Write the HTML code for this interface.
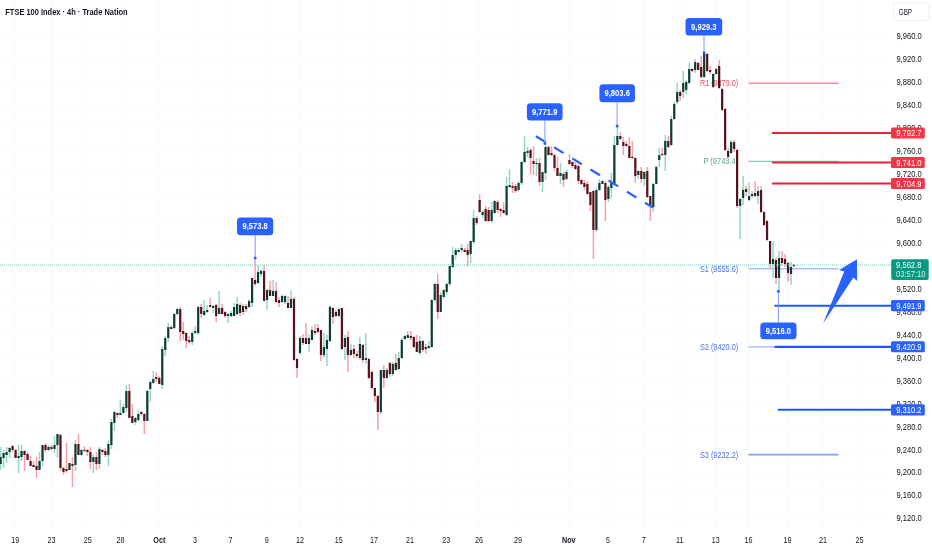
<!DOCTYPE html>
<html><head><meta charset="utf-8"><title>FTSE 100 Index 4h</title>
<style>
html,body{margin:0;padding:0;background:#fff;width:932px;height:550px;overflow:hidden;font-family:"Liberation Sans", sans-serif;}
svg{display:block;filter:blur(0.3px);}
</style></head><body>
<svg width="932" height="550" viewBox="0 0 932 550"><g stroke="#f8f9fa" stroke-width="0.8"><line x1="0" y1="35.5" x2="888" y2="35.5"/><line x1="0" y1="58.5" x2="888" y2="58.5"/><line x1="0" y1="81.5" x2="888" y2="81.5"/><line x1="0" y1="104.5" x2="888" y2="104.5"/><line x1="0" y1="127.5" x2="888" y2="127.5"/><line x1="0" y1="150.5" x2="888" y2="150.5"/><line x1="0" y1="173.5" x2="888" y2="173.5"/><line x1="0" y1="196.4" x2="888" y2="196.4"/><line x1="0" y1="219.4" x2="888" y2="219.4"/><line x1="0" y1="242.4" x2="888" y2="242.4"/><line x1="0" y1="265.4" x2="888" y2="265.4"/><line x1="0" y1="288.4" x2="888" y2="288.4"/><line x1="0" y1="311.4" x2="888" y2="311.4"/><line x1="0" y1="334.4" x2="888" y2="334.4"/><line x1="0" y1="357.4" x2="888" y2="357.4"/><line x1="0" y1="380.4" x2="888" y2="380.4"/><line x1="0" y1="403.4" x2="888" y2="403.4"/><line x1="0" y1="426.4" x2="888" y2="426.4"/><line x1="0" y1="449.4" x2="888" y2="449.4"/><line x1="0" y1="472.3" x2="888" y2="472.3"/><line x1="0" y1="495.3" x2="888" y2="495.3"/><line x1="0" y1="518.3" x2="888" y2="518.3"/><line x1="15.3" y1="0" x2="15.3" y2="528"/><line x1="51.5" y1="0" x2="51.5" y2="528"/><line x1="87.7" y1="0" x2="87.7" y2="528"/><line x1="120.4" y1="0" x2="120.4" y2="528"/><line x1="159.3" y1="0" x2="159.3" y2="528"/><line x1="195.0" y1="0" x2="195.0" y2="528"/><line x1="230.5" y1="0" x2="230.5" y2="528"/><line x1="266.7" y1="0" x2="266.7" y2="528"/><line x1="300.0" y1="0" x2="300.0" y2="528"/><line x1="338.7" y1="0" x2="338.7" y2="528"/><line x1="374.0" y1="0" x2="374.0" y2="528"/><line x1="410.0" y1="0" x2="410.0" y2="528"/><line x1="446.3" y1="0" x2="446.3" y2="528"/><line x1="479.0" y1="0" x2="479.0" y2="528"/><line x1="517.9" y1="0" x2="517.9" y2="528"/><line x1="568.8" y1="0" x2="568.8" y2="528"/><line x1="608.0" y1="0" x2="608.0" y2="528"/><line x1="643.8" y1="0" x2="643.8" y2="528"/><line x1="679.8" y1="0" x2="679.8" y2="528"/><line x1="715.7" y1="0" x2="715.7" y2="528"/><line x1="748.4" y1="0" x2="748.4" y2="528"/><line x1="787.5" y1="0" x2="787.5" y2="528"/><line x1="823.0" y1="0" x2="823.0" y2="528"/><line x1="859.4" y1="0" x2="859.4" y2="528"/></g><line x1="748.5" y1="83.2" x2="838.5" y2="83.2" stroke="#f45a67" stroke-width="1.0"/><text x="738.2" y="86.2" text-anchor="end" fill="#f04c5a" font-size="8.6" font-family='"Liberation Sans", sans-serif' textLength="38.3" lengthAdjust="spacingAndGlyphs">R1 (9879.0)</text><line x1="748.5" y1="161.3" x2="838.5" y2="161.3" stroke="#6fbf9c" stroke-width="1.0"/><text x="738.2" y="164.3" text-anchor="end" fill="#52a882" font-size="8.6" font-family='"Liberation Sans", sans-serif' textLength="34.8" lengthAdjust="spacingAndGlyphs">P (9743.4)</text><line x1="748.5" y1="268.8" x2="838.5" y2="268.8" stroke="#86a0fb" stroke-width="1.0"/><text x="738.2" y="271.8" text-anchor="end" fill="#4d70f5" font-size="8.6" font-family='"Liberation Sans", sans-serif' textLength="38.3" lengthAdjust="spacingAndGlyphs">S1 (9555.6)</text><line x1="748.5" y1="346.9" x2="838.5" y2="346.9" stroke="#86a0fb" stroke-width="1.0"/><text x="738.2" y="349.9" text-anchor="end" fill="#4d70f5" font-size="8.6" font-family='"Liberation Sans", sans-serif' textLength="38.3" lengthAdjust="spacingAndGlyphs">S2 (9420.0)</text><line x1="748.5" y1="454.6" x2="838.5" y2="454.6" stroke="#86a0fb" stroke-width="1.8"/><text x="738.2" y="457.6" text-anchor="end" fill="#4d70f5" font-size="8.6" font-family='"Liberation Sans", sans-serif' textLength="38.3" lengthAdjust="spacingAndGlyphs">S3 (9232.2)</text><path d="M0.60 447.0V470.0M3.59 450.0V468.0M6.59 447.0V463.0M9.58 447.0V458.0M18.56 445.0V473.0M21.56 445.0V461.0M39.52 452.0V470.0M42.52 445.0V466.0M48.50 445.0V451.0M54.49 436.0V453.0M57.49 434.0V458.0M69.46 463.0V470.0M75.45 440.0V471.0M81.44 449.0V456.0M93.41 454.0V473.0M99.40 447.0V469.0M108.38 440.0V466.0M111.38 419.0V449.0M114.37 411.0V431.0M120.36 400.0V415.0M123.35 404.0V413.0M126.35 385.0V412.0M135.33 417.0V425.0M138.32 410.0V421.0M147.31 390.0V421.0M150.30 381.0V402.0M153.29 371.0V384.0M162.28 346.0V389.0M165.27 336.0V356.0M168.26 323.0V342.0M174.25 313.0V329.0M177.25 308.0V315.0M192.22 331.0V345.0M195.21 326.0V334.0M198.20 306.0V335.0M204.19 300.0V316.0M207.19 305.0V313.0M213.17 305.0V313.0M219.16 291.0V314.0M228.14 313.0V323.0M231.14 311.0V317.0M234.13 303.0V316.0M237.13 297.0V315.0M243.11 304.0V315.0M249.10 299.0V308.0M252.10 278.0V307.0M258.08 265.0V284.0M261.08 269.0V277.0M267.07 289.0V310.0M273.05 280.0V296.0M282.04 294.0V303.0M285.03 295.0V304.0M291.02 290.0V308.0M300.00 336.0V355.0M308.98 335.0V352.0M311.98 326.0V340.0M323.95 333.0V358.0M326.95 335.0V366.0M329.94 305.0V342.0M338.92 308.0V317.0M344.91 335.0V360.0M350.90 344.0V356.0M359.88 337.0V360.0M365.87 333.0V364.0M380.84 370.0V414.0M386.83 368.0V379.0M392.81 362.0V376.0M398.80 352.0V370.0M401.80 338.0V359.0M404.79 335.0V340.0M407.78 331.0V338.0M419.76 336.0V355.0M428.74 341.0V349.0M431.74 299.0V348.0M434.73 283.0V302.0M440.72 292.0V312.0M443.71 289.0V299.0M446.71 283.0V295.0M449.70 266.0V286.0M452.69 247.0V268.0M455.69 248.0V260.0M458.68 248.0V252.0M461.68 244.0V252.0M470.66 241.0V263.0M473.65 210.0V244.0M482.63 210.0V218.0M491.62 202.0V223.0M494.61 200.0V214.0M506.59 177.0V216.0M509.58 169.0V188.0M518.56 182.0V191.0M521.56 161.0V185.0M524.55 136.0V163.0M527.54 147.0V157.0M536.53 158.0V176.0M542.51 172.0V192.0M545.51 146.0V180.0M560.48 163.0V184.0M566.47 170.0V180.0M596.41 188.0V232.0M599.40 179.0V191.0M602.39 180.0V184.0M608.38 185.0V202.0M611.38 173.0V198.0M614.37 136.0V185.0M617.36 125.0V146.0M638.32 170.0V179.0M644.31 171.0V186.0M653.29 183.0V212.0M656.29 165.0V184.0M659.28 148.0V167.0M665.27 135.0V171.0M671.26 116.0V146.0M674.25 102.0V120.0M677.24 83.0V104.0M683.23 71.0V98.0M686.23 80.0V94.0M689.22 63.0V84.0M695.21 59.0V73.0M704.19 52.0V78.0M713.17 73.0V88.0M716.17 68.0V75.0M731.14 140.0V154.0M740.12 198.0V239.0M743.11 176.0V205.0M749.10 182.0V201.0M752.09 191.0V198.0M758.08 186.0V204.0M773.05 241.0V278.0M779.04 251.0V292.0M791.02 262.0V285.0" stroke="#97d6c8" stroke-width="1.5" fill="none"/><path d="M12.58 445.0V452.0M15.57 449.0V458.0M24.55 450.0V471.0M27.55 452.0V460.0M30.54 456.0V466.0M33.53 461.0V467.0M36.53 457.0V478.0M45.51 443.0V452.0M51.50 445.0V450.0M60.48 434.0V471.0M63.47 467.0V475.0M66.47 443.0V473.0M72.46 457.0V487.0M78.44 434.0V454.0M84.43 446.0V452.0M87.43 449.0V456.0M90.42 447.0V469.0M96.41 452.0V470.0M102.40 449.0V455.0M105.39 448.0V457.0M117.37 412.0V418.0M129.34 384.0V418.0M132.34 404.0V423.0M141.32 411.0V416.0M144.31 413.0V434.0M156.29 372.0V382.0M159.28 376.0V384.0M171.26 325.0V329.0M180.24 307.0V341.0M183.23 322.0V340.0M186.23 332.0V348.0M189.22 336.0V344.0M201.20 304.0V318.0M210.18 298.0V307.0M216.17 304.0V322.0M222.16 304.0V314.0M225.15 311.0V318.0M240.12 303.0V316.0M246.11 304.0V312.0M255.09 258.0V286.0M264.07 265.0V301.0M270.06 281.0V296.0M276.05 282.0V303.0M279.04 297.0V307.0M288.02 296.0V308.0M294.01 297.0V361.0M297.01 358.0V378.0M302.99 334.0V345.0M305.99 323.0V344.0M314.97 324.0V335.0M317.96 324.0V333.0M320.96 330.0V361.0M332.93 307.0V324.0M335.93 310.0V317.0M341.92 308.0V350.0M347.90 331.0V372.0M353.89 345.0V358.0M356.89 351.0V358.0M362.87 344.0V363.0M368.86 358.0V379.0M371.86 370.0V389.0M374.85 388.0V402.0M377.84 395.0V430.0M383.83 365.0V388.0M389.82 362.0V377.0M395.81 354.0V370.0M410.78 331.0V340.0M413.77 336.0V348.0M416.77 335.0V352.0M422.75 340.0V352.0M425.75 344.0V354.0M437.72 274.0V319.0M464.67 248.0V252.0M467.66 244.0V266.0M476.65 216.0V225.0M479.64 194.0V213.0M485.63 206.0V222.0M488.62 207.0V222.0M497.60 200.0V213.0M500.60 208.0V217.0M503.59 202.0V214.0M512.57 182.0V193.0M515.57 184.0V193.0M530.54 148.0V174.0M533.53 146.0V175.0M539.52 158.0V186.0M548.50 146.0V156.0M551.50 146.0V156.0M554.49 154.0V171.0M557.48 157.0V176.0M563.47 172.0V187.0M569.46 154.0V165.0M572.45 161.0V168.0M575.45 162.0V170.0M578.44 164.0V184.0M581.44 179.0V185.0M584.43 180.0V190.0M587.42 181.0V195.0M590.42 192.0V211.0M593.41 190.0V259.0M605.39 181.0V221.0M620.36 132.0V140.0M623.35 137.0V155.0M626.35 141.0V147.0M629.34 137.0V158.0M632.33 141.0V159.0M635.33 157.0V183.0M641.32 167.0V183.0M647.30 167.0V198.0M650.30 196.0V221.0M662.27 148.0V156.0M668.26 136.0V148.0M680.24 90.0V101.0M692.21 68.0V72.0M698.20 62.0V70.0M701.20 56.0V78.0M707.18 53.0V72.0M710.18 66.0V74.0M719.16 60.0V89.0M722.15 88.0V111.0M725.15 108.0V151.0M728.14 148.0V158.0M734.13 140.0V152.0M737.12 149.0V208.0M746.11 186.0V196.0M755.09 181.0V197.0M761.08 186.0V213.0M764.07 211.0V226.0M767.06 220.0V241.0M770.06 241.0V269.0M776.05 258.0V284.0M782.03 251.0V266.0M785.03 254.0V267.0M788.02 262.0V282.0M794.01 264.0V267.0" stroke="#f7a0a8" stroke-width="1.5" fill="none"/><g fill="#0c3d32"><rect x="-0.50" y="457.0" width="2.2" height="7.0"/><rect x="2.49" y="453.0" width="2.2" height="5.0"/><rect x="5.49" y="452.0" width="2.2" height="3.0"/><rect x="8.48" y="448.0" width="2.2" height="4.0"/><rect x="17.46" y="456.0" width="2.2" height="2.0"/><rect x="20.46" y="451.0" width="2.2" height="6.0"/><rect x="38.42" y="461.0" width="2.2" height="9.0"/><rect x="41.42" y="445.0" width="2.2" height="16.0"/><rect x="47.40" y="447.0" width="2.2" height="3.0"/><rect x="53.39" y="445.0" width="2.2" height="4.0"/><rect x="56.39" y="434.0" width="2.2" height="11.0"/><rect x="68.36" y="463.0" width="2.2" height="7.0"/><rect x="74.35" y="444.0" width="2.2" height="21.0"/><rect x="80.34" y="450.0" width="2.2" height="5.0"/><rect x="92.31" y="457.0" width="2.2" height="5.0"/><rect x="98.30" y="449.0" width="2.2" height="15.0"/><rect x="107.28" y="444.0" width="2.2" height="11.0"/><rect x="110.28" y="422.0" width="2.2" height="23.0"/><rect x="113.27" y="412.0" width="2.2" height="11.0"/><rect x="119.26" y="413.0" width="2.2" height="2.0"/><rect x="122.25" y="407.0" width="2.2" height="6.0"/><rect x="125.25" y="391.0" width="2.2" height="17.0"/><rect x="134.23" y="418.0" width="2.2" height="4.0"/><rect x="137.22" y="414.0" width="2.2" height="6.0"/><rect x="146.21" y="391.0" width="2.2" height="30.0"/><rect x="149.20" y="382.0" width="2.2" height="7.0"/><rect x="152.19" y="379.0" width="2.2" height="4.0"/><rect x="161.18" y="349.0" width="2.2" height="36.0"/><rect x="164.17" y="338.0" width="2.2" height="12.0"/><rect x="167.16" y="327.0" width="2.2" height="11.0"/><rect x="173.15" y="314.0" width="2.2" height="14.0"/><rect x="176.15" y="309.0" width="2.2" height="5.0"/><rect x="191.12" y="333.0" width="2.2" height="9.0"/><rect x="194.11" y="331.0" width="2.2" height="2.0"/><rect x="197.10" y="307.0" width="2.2" height="26.0"/><rect x="203.09" y="311.0" width="2.2" height="4.0"/><rect x="206.09" y="310.0" width="2.2" height="2.0"/><rect x="212.07" y="306.0" width="2.2" height="2.0"/><rect x="218.06" y="308.0" width="2.2" height="6.0"/><rect x="227.04" y="314.0" width="2.2" height="2.0"/><rect x="230.04" y="313.0" width="2.2" height="3.0"/><rect x="233.03" y="307.0" width="2.2" height="9.0"/><rect x="236.03" y="304.0" width="2.2" height="10.0"/><rect x="242.01" y="306.0" width="2.2" height="6.0"/><rect x="248.00" y="301.0" width="2.2" height="6.0"/><rect x="251.00" y="278.0" width="2.2" height="25.0"/><rect x="256.98" y="272.0" width="2.2" height="11.0"/><rect x="259.98" y="271.0" width="2.2" height="3.0"/><rect x="265.97" y="290.0" width="2.2" height="10.0"/><rect x="271.95" y="291.0" width="2.2" height="5.0"/><rect x="280.94" y="296.0" width="2.2" height="6.0"/><rect x="283.93" y="296.0" width="2.2" height="6.0"/><rect x="289.92" y="299.0" width="2.2" height="9.0"/><rect x="298.90" y="338.0" width="2.2" height="15.0"/><rect x="307.88" y="338.0" width="2.2" height="6.0"/><rect x="310.88" y="330.0" width="2.2" height="10.0"/><rect x="322.85" y="347.0" width="2.2" height="8.0"/><rect x="325.85" y="340.0" width="2.2" height="9.0"/><rect x="328.84" y="307.0" width="2.2" height="34.0"/><rect x="337.82" y="309.0" width="2.2" height="7.0"/><rect x="343.81" y="338.0" width="2.2" height="9.0"/><rect x="349.80" y="350.0" width="2.2" height="5.0"/><rect x="358.78" y="344.0" width="2.2" height="14.0"/><rect x="364.77" y="358.0" width="2.2" height="2.0"/><rect x="379.74" y="370.0" width="2.2" height="42.0"/><rect x="385.73" y="370.0" width="2.2" height="8.0"/><rect x="391.71" y="364.0" width="2.2" height="10.0"/><rect x="397.70" y="358.0" width="2.2" height="11.0"/><rect x="400.70" y="340.0" width="2.2" height="18.0"/><rect x="403.69" y="336.0" width="2.2" height="3.0"/><rect x="406.68" y="335.0" width="2.2" height="3.0"/><rect x="418.66" y="341.0" width="2.2" height="12.0"/><rect x="427.64" y="346.0" width="2.2" height="2.0"/><rect x="430.64" y="300.0" width="2.2" height="47.0"/><rect x="433.63" y="284.0" width="2.2" height="16.0"/><rect x="439.62" y="295.0" width="2.2" height="17.0"/><rect x="442.61" y="290.0" width="2.2" height="7.0"/><rect x="445.61" y="284.0" width="2.2" height="8.0"/><rect x="448.60" y="266.0" width="2.2" height="18.0"/><rect x="451.59" y="255.0" width="2.2" height="12.0"/><rect x="454.59" y="250.0" width="2.2" height="5.0"/><rect x="457.58" y="250.0" width="2.2" height="2.0"/><rect x="460.58" y="248.0" width="2.2" height="2.0"/><rect x="469.56" y="241.0" width="2.2" height="13.0"/><rect x="472.55" y="218.0" width="2.2" height="24.0"/><rect x="481.53" y="212.0" width="2.2" height="3.0"/><rect x="490.52" y="210.0" width="2.2" height="11.0"/><rect x="493.51" y="201.0" width="2.2" height="12.0"/><rect x="505.49" y="186.0" width="2.2" height="29.0"/><rect x="508.48" y="185.0" width="2.2" height="2.0"/><rect x="517.46" y="183.0" width="2.2" height="7.0"/><rect x="520.46" y="162.0" width="2.2" height="21.0"/><rect x="523.45" y="152.0" width="2.2" height="10.0"/><rect x="526.44" y="151.0" width="2.2" height="2.0"/><rect x="535.43" y="162.9" width="2.2" height="1.2"/><rect x="541.41" y="172.0" width="2.2" height="10.0"/><rect x="544.41" y="147.0" width="2.2" height="26.0"/><rect x="559.38" y="173.0" width="2.2" height="3.0"/><rect x="565.37" y="172.0" width="2.2" height="7.0"/><rect x="595.31" y="190.0" width="2.2" height="40.0"/><rect x="598.30" y="183.0" width="2.2" height="7.0"/><rect x="601.29" y="181.0" width="2.2" height="3.0"/><rect x="607.28" y="187.0" width="2.2" height="12.0"/><rect x="610.28" y="183.0" width="2.2" height="5.0"/><rect x="613.27" y="145.0" width="2.2" height="39.0"/><rect x="616.26" y="136.0" width="2.2" height="9.0"/><rect x="637.22" y="171.0" width="2.2" height="4.0"/><rect x="643.21" y="172.0" width="2.2" height="7.0"/><rect x="652.19" y="184.0" width="2.2" height="23.0"/><rect x="655.19" y="167.0" width="2.2" height="17.0"/><rect x="658.18" y="155.0" width="2.2" height="5.0"/><rect x="664.17" y="141.0" width="2.2" height="14.0"/><rect x="670.16" y="119.0" width="2.2" height="26.0"/><rect x="673.15" y="104.0" width="2.2" height="15.0"/><rect x="676.14" y="92.0" width="2.2" height="10.0"/><rect x="682.13" y="83.0" width="2.2" height="9.0"/><rect x="685.13" y="82.0" width="2.2" height="8.0"/><rect x="688.12" y="69.0" width="2.2" height="14.0"/><rect x="694.11" y="62.0" width="2.2" height="8.0"/><rect x="703.09" y="53.0" width="2.2" height="24.0"/><rect x="712.07" y="74.0" width="2.2" height="13.0"/><rect x="715.07" y="69.0" width="2.2" height="5.0"/><rect x="730.04" y="142.0" width="2.2" height="11.0"/><rect x="739.02" y="199.0" width="2.2" height="7.0"/><rect x="742.01" y="190.0" width="2.2" height="8.0"/><rect x="748.00" y="196.0" width="2.2" height="4.0"/><rect x="750.99" y="194.0" width="2.2" height="2.0"/><rect x="756.98" y="191.0" width="2.2" height="5.0"/><rect x="771.95" y="259.0" width="2.2" height="5.0"/><rect x="777.94" y="258.0" width="2.2" height="20.0"/><rect x="789.92" y="267.0" width="2.2" height="7.0"/></g><g fill="#55121a"><rect x="11.48" y="446.0" width="2.2" height="4.0"/><rect x="14.47" y="450.0" width="2.2" height="8.0"/><rect x="23.45" y="451.0" width="2.2" height="4.0"/><rect x="26.45" y="454.0" width="2.2" height="6.0"/><rect x="29.44" y="461.0" width="2.2" height="5.0"/><rect x="32.43" y="465.0" width="2.2" height="2.0"/><rect x="35.43" y="466.0" width="2.2" height="4.0"/><rect x="44.41" y="445.0" width="2.2" height="5.0"/><rect x="50.40" y="447.0" width="2.2" height="2.0"/><rect x="59.38" y="435.0" width="2.2" height="33.0"/><rect x="62.37" y="468.0" width="2.2" height="4.0"/><rect x="65.37" y="469.0" width="2.2" height="2.0"/><rect x="71.36" y="464.0" width="2.2" height="2.0"/><rect x="77.34" y="444.0" width="2.2" height="11.0"/><rect x="83.33" y="449.9" width="2.2" height="1.2"/><rect x="86.33" y="450.0" width="2.2" height="2.0"/><rect x="89.32" y="452.0" width="2.2" height="10.0"/><rect x="95.31" y="457.0" width="2.2" height="7.0"/><rect x="101.30" y="450.0" width="2.2" height="2.0"/><rect x="104.29" y="451.0" width="2.2" height="4.0"/><rect x="116.27" y="413.0" width="2.2" height="2.0"/><rect x="128.24" y="391.0" width="2.2" height="27.0"/><rect x="131.24" y="416.0" width="2.2" height="7.0"/><rect x="140.22" y="412.0" width="2.2" height="2.0"/><rect x="143.21" y="414.0" width="2.2" height="7.0"/><rect x="155.19" y="377.0" width="2.2" height="2.0"/><rect x="158.18" y="378.0" width="2.2" height="6.0"/><rect x="170.16" y="327.0" width="2.2" height="2.0"/><rect x="179.14" y="309.0" width="2.2" height="23.0"/><rect x="182.13" y="331.0" width="2.2" height="3.0"/><rect x="185.13" y="333.0" width="2.2" height="8.0"/><rect x="188.12" y="340.0" width="2.2" height="2.0"/><rect x="200.10" y="307.0" width="2.2" height="7.0"/><rect x="209.08" y="305.0" width="2.2" height="2.0"/><rect x="215.07" y="305.0" width="2.2" height="11.0"/><rect x="221.06" y="308.0" width="2.2" height="6.0"/><rect x="224.05" y="312.0" width="2.2" height="4.0"/><rect x="239.02" y="305.0" width="2.2" height="8.0"/><rect x="245.01" y="306.0" width="2.2" height="3.0"/><rect x="253.99" y="280.0" width="2.2" height="4.0"/><rect x="262.97" y="271.0" width="2.2" height="30.0"/><rect x="268.96" y="290.0" width="2.2" height="6.0"/><rect x="274.95" y="291.0" width="2.2" height="11.0"/><rect x="277.94" y="300.0" width="2.2" height="3.0"/><rect x="286.92" y="303.0" width="2.2" height="5.0"/><rect x="292.91" y="299.0" width="2.2" height="61.0"/><rect x="295.91" y="359.0" width="2.2" height="9.0"/><rect x="301.89" y="338.0" width="2.2" height="5.0"/><rect x="304.89" y="338.0" width="2.2" height="6.0"/><rect x="313.87" y="331.0" width="2.2" height="2.0"/><rect x="316.86" y="328.0" width="2.2" height="4.0"/><rect x="319.86" y="330.0" width="2.2" height="25.0"/><rect x="331.83" y="308.0" width="2.2" height="9.0"/><rect x="334.83" y="312.0" width="2.2" height="4.0"/><rect x="340.82" y="308.0" width="2.2" height="41.0"/><rect x="346.80" y="337.0" width="2.2" height="18.0"/><rect x="352.79" y="349.0" width="2.2" height="5.0"/><rect x="355.79" y="354.0" width="2.2" height="2.0"/><rect x="361.77" y="345.0" width="2.2" height="15.0"/><rect x="367.76" y="359.0" width="2.2" height="19.0"/><rect x="370.76" y="372.0" width="2.2" height="16.0"/><rect x="373.75" y="388.0" width="2.2" height="8.0"/><rect x="376.74" y="396.0" width="2.2" height="16.0"/><rect x="382.73" y="370.0" width="2.2" height="8.0"/><rect x="388.72" y="363.0" width="2.2" height="11.0"/><rect x="394.71" y="363.0" width="2.2" height="7.0"/><rect x="409.68" y="336.0" width="2.2" height="2.0"/><rect x="412.67" y="337.0" width="2.2" height="10.0"/><rect x="415.67" y="342.0" width="2.2" height="10.0"/><rect x="421.65" y="341.0" width="2.2" height="9.0"/><rect x="424.65" y="347.0" width="2.2" height="2.0"/><rect x="436.62" y="284.0" width="2.2" height="28.0"/><rect x="463.57" y="250.0" width="2.2" height="2.0"/><rect x="466.56" y="250.0" width="2.2" height="5.0"/><rect x="475.55" y="218.0" width="2.2" height="5.0"/><rect x="478.54" y="200.0" width="2.2" height="12.0"/><rect x="484.53" y="209.0" width="2.2" height="12.0"/><rect x="487.52" y="210.0" width="2.2" height="11.0"/><rect x="496.50" y="202.0" width="2.2" height="8.0"/><rect x="499.50" y="209.0" width="2.2" height="2.0"/><rect x="502.49" y="210.0" width="2.2" height="3.0"/><rect x="511.47" y="186.0" width="2.2" height="2.0"/><rect x="514.47" y="186.0" width="2.2" height="5.0"/><rect x="529.44" y="150.0" width="2.2" height="8.0"/><rect x="532.43" y="161.0" width="2.2" height="3.0"/><rect x="538.42" y="163.0" width="2.2" height="19.0"/><rect x="547.40" y="147.0" width="2.2" height="8.0"/><rect x="550.40" y="153.0" width="2.2" height="2.0"/><rect x="553.39" y="155.0" width="2.2" height="13.0"/><rect x="556.38" y="168.0" width="2.2" height="8.0"/><rect x="562.37" y="174.0" width="2.2" height="6.0"/><rect x="568.36" y="160.0" width="2.2" height="4.0"/><rect x="571.35" y="162.0" width="2.2" height="4.0"/><rect x="574.35" y="165.0" width="2.2" height="4.0"/><rect x="577.34" y="166.0" width="2.2" height="15.0"/><rect x="580.34" y="180.0" width="2.2" height="4.0"/><rect x="583.33" y="183.0" width="2.2" height="4.0"/><rect x="586.32" y="184.0" width="2.2" height="10.0"/><rect x="589.32" y="192.0" width="2.2" height="13.0"/><rect x="592.31" y="191.0" width="2.2" height="39.0"/><rect x="604.29" y="183.0" width="2.2" height="17.0"/><rect x="619.26" y="136.0" width="2.2" height="3.0"/><rect x="622.25" y="142.0" width="2.2" height="4.0"/><rect x="625.25" y="144.0" width="2.2" height="2.0"/><rect x="628.24" y="146.0" width="2.2" height="12.0"/><rect x="631.23" y="156.9" width="2.2" height="1.2"/><rect x="634.23" y="158.0" width="2.2" height="18.0"/><rect x="640.22" y="171.0" width="2.2" height="8.0"/><rect x="646.20" y="171.0" width="2.2" height="26.0"/><rect x="649.20" y="196.0" width="2.2" height="10.0"/><rect x="661.17" y="153.9" width="2.2" height="1.2"/><rect x="667.16" y="141.0" width="2.2" height="6.0"/><rect x="679.14" y="92.0" width="2.2" height="4.0"/><rect x="691.11" y="69.0" width="2.2" height="2.0"/><rect x="697.10" y="63.0" width="2.2" height="7.0"/><rect x="700.10" y="67.0" width="2.2" height="10.0"/><rect x="706.08" y="54.0" width="2.2" height="17.0"/><rect x="709.08" y="70.0" width="2.2" height="2.0"/><rect x="718.06" y="66.0" width="2.2" height="22.0"/><rect x="721.05" y="89.0" width="2.2" height="21.0"/><rect x="724.05" y="109.0" width="2.2" height="41.0"/><rect x="727.04" y="151.0" width="2.2" height="6.0"/><rect x="733.03" y="142.0" width="2.2" height="7.0"/><rect x="736.02" y="150.0" width="2.2" height="56.0"/><rect x="745.01" y="189.0" width="2.2" height="3.0"/><rect x="753.99" y="193.0" width="2.2" height="3.0"/><rect x="759.98" y="190.0" width="2.2" height="22.0"/><rect x="762.97" y="212.0" width="2.2" height="13.0"/><rect x="765.96" y="221.0" width="2.2" height="19.0"/><rect x="768.96" y="241.0" width="2.2" height="23.0"/><rect x="774.95" y="260.0" width="2.2" height="18.0"/><rect x="780.93" y="258.0" width="2.2" height="5.0"/><rect x="783.93" y="259.0" width="2.2" height="5.0"/><rect x="786.92" y="263.0" width="2.2" height="10.0"/><rect x="792.91" y="264.9" width="2.2" height="1.2"/></g><line x1="0" y1="265" x2="891" y2="265" stroke="#7fcdbd" stroke-width="1.1" stroke-dasharray="1 1"/><line x1="772" y1="133.0" x2="891" y2="133.0" stroke="#ef1f35" stroke-width="2.0"/><line x1="772" y1="162.6" x2="891" y2="162.6" stroke="#ef1f35" stroke-width="2.0"/><line x1="772" y1="183.5" x2="891" y2="183.5" stroke="#ef1f35" stroke-width="2.0"/><line x1="775.2" y1="305.7" x2="891" y2="305.7" stroke="#1e56ff" stroke-width="2.1" stroke-linecap="round"/><line x1="775.4" y1="346.9" x2="891" y2="346.9" stroke="#1e56ff" stroke-width="2.1" stroke-linecap="round"/><line x1="778.6" y1="409.8" x2="891" y2="409.8" stroke="#1e56ff" stroke-width="2.1" stroke-linecap="round"/><line x1="535.9" y1="136.2" x2="653" y2="207.6" stroke="#2962ff" stroke-width="2.2" stroke-dasharray="11.2 10.1"/><path d="M823.1 323.5 L844.2 271.4 L839.1 270 L857 259.3 L857.1 281 L853.4 277.4 Z" fill="#2962ff"/><line x1="255.2" y1="235.3" x2="255.2" y2="258.0" stroke="#7f9cff" stroke-width="1"/><circle cx="255.2" cy="258.0" r="1.5" fill="#2962ff"/><rect x="237.0" y="217.6" width="36.2" height="17.7" rx="3.5" fill="#2962ff"/><text x="242.4" y="229.3" fill="#fff" font-size="9.2" font-weight="bold" font-family='"Liberation Sans", sans-serif' textLength="25.4" lengthAdjust="spacingAndGlyphs">9,573.8</text><line x1="544.9" y1="120.4" x2="544.9" y2="143.6" stroke="#7f9cff" stroke-width="1"/><circle cx="544.9" cy="143.6" r="1.5" fill="#2962ff"/><rect x="526.9" y="103.2" width="35.7" height="17.2" rx="3.5" fill="#2962ff"/><text x="532.0" y="114.7" fill="#fff" font-size="9.2" font-weight="bold" font-family='"Liberation Sans", sans-serif' textLength="25.4" lengthAdjust="spacingAndGlyphs">9,771.9</text><line x1="617.1" y1="102.2" x2="617.1" y2="125.9" stroke="#7f9cff" stroke-width="1"/><circle cx="617.1" cy="125.9" r="1.5" fill="#2962ff"/><rect x="599.4" y="84.2" width="35.6" height="18.0" rx="3.5" fill="#2962ff"/><text x="604.5" y="96.1" fill="#fff" font-size="9.2" font-weight="bold" font-family='"Liberation Sans", sans-serif' textLength="25.4" lengthAdjust="spacingAndGlyphs">9,803.6</text><line x1="704.0" y1="35.6" x2="704.0" y2="52.8" stroke="#7f9cff" stroke-width="1"/><circle cx="704.0" cy="52.8" r="1.5" fill="#2962ff"/><rect x="685.5" y="18.0" width="36.7" height="17.6" rx="3.5" fill="#2962ff"/><text x="691.1" y="29.7" fill="#fff" font-size="9.2" font-weight="bold" font-family='"Liberation Sans", sans-serif' textLength="25.4" lengthAdjust="spacingAndGlyphs">9,929.3</text><line x1="778.4" y1="322.5" x2="778.4" y2="291.3" stroke="#7f9cff" stroke-width="1"/><circle cx="778.4" cy="291.3" r="1.5" fill="#2962ff"/><rect x="760.3" y="322.5" width="36.2" height="16.8" rx="3.5" fill="#2962ff"/><text x="765.7" y="333.8" fill="#fff" font-size="9.2" font-weight="bold" font-family='"Liberation Sans", sans-serif' textLength="25.4" lengthAdjust="spacingAndGlyphs">9,516.0</text><g fill="#0f1115" font-size="9.2" font-family='"Liberation Sans", sans-serif'><text x="896.4" y="38.6" textLength="25.3" lengthAdjust="spacingAndGlyphs">9,960.0</text><text x="896.4" y="61.6" textLength="25.3" lengthAdjust="spacingAndGlyphs">9,920.0</text><text x="896.4" y="84.6" textLength="25.3" lengthAdjust="spacingAndGlyphs">9,880.0</text><text x="896.4" y="107.6" textLength="25.3" lengthAdjust="spacingAndGlyphs">9,840.0</text><text x="896.4" y="130.6" textLength="25.3" lengthAdjust="spacingAndGlyphs">9,800.0</text><text x="896.4" y="153.6" textLength="25.3" lengthAdjust="spacingAndGlyphs">9,760.0</text><text x="896.4" y="176.6" textLength="25.3" lengthAdjust="spacingAndGlyphs">9,720.0</text><text x="896.4" y="199.5" textLength="25.3" lengthAdjust="spacingAndGlyphs">9,680.0</text><text x="896.4" y="222.5" textLength="25.3" lengthAdjust="spacingAndGlyphs">9,640.0</text><text x="896.4" y="245.5" textLength="25.3" lengthAdjust="spacingAndGlyphs">9,600.0</text><text x="896.4" y="268.5" textLength="25.3" lengthAdjust="spacingAndGlyphs">9,560.0</text><text x="896.4" y="291.5" textLength="25.3" lengthAdjust="spacingAndGlyphs">9,520.0</text><text x="896.4" y="314.5" textLength="25.3" lengthAdjust="spacingAndGlyphs">9,480.0</text><text x="896.4" y="337.5" textLength="25.3" lengthAdjust="spacingAndGlyphs">9,440.0</text><text x="896.4" y="360.5" textLength="25.3" lengthAdjust="spacingAndGlyphs">9,400.0</text><text x="896.4" y="383.5" textLength="25.3" lengthAdjust="spacingAndGlyphs">9,360.0</text><text x="896.4" y="406.5" textLength="25.3" lengthAdjust="spacingAndGlyphs">9,320.0</text><text x="896.4" y="429.5" textLength="25.3" lengthAdjust="spacingAndGlyphs">9,280.0</text><text x="896.4" y="452.5" textLength="25.3" lengthAdjust="spacingAndGlyphs">9,240.0</text><text x="896.4" y="475.4" textLength="25.3" lengthAdjust="spacingAndGlyphs">9,200.0</text><text x="896.4" y="498.4" textLength="25.3" lengthAdjust="spacingAndGlyphs">9,160.0</text><text x="896.4" y="521.4" textLength="25.3" lengthAdjust="spacingAndGlyphs">9,120.0</text></g><rect x="891" y="127.5" width="33.8" height="11.0" rx="1.5" fill="#f23645"/><text x="896.2" y="136.2" fill="#fff" font-size="9.0" font-family='"Liberation Sans", sans-serif' textLength="25.3" lengthAdjust="spacingAndGlyphs">9,792.7</text><rect x="891" y="157.1" width="33.8" height="11.0" rx="1.5" fill="#f23645"/><text x="896.2" y="165.8" fill="#fff" font-size="9.0" font-family='"Liberation Sans", sans-serif' textLength="25.3" lengthAdjust="spacingAndGlyphs">9,741.0</text><rect x="891" y="178.0" width="33.8" height="11.0" rx="1.5" fill="#f23645"/><text x="896.2" y="186.7" fill="#fff" font-size="9.0" font-family='"Liberation Sans", sans-serif' textLength="25.3" lengthAdjust="spacingAndGlyphs">9,704.9</text><rect x="891" y="300.0" width="33.8" height="11.2" rx="1.5" fill="#2962ff"/><text x="896.2" y="308.8" fill="#fff" font-size="9.0" font-family='"Liberation Sans", sans-serif' textLength="25.3" lengthAdjust="spacingAndGlyphs">9,491.9</text><rect x="891" y="341.2" width="33.8" height="11.1" rx="1.5" fill="#2962ff"/><text x="896.2" y="349.9" fill="#fff" font-size="9.0" font-family='"Liberation Sans", sans-serif' textLength="25.3" lengthAdjust="spacingAndGlyphs">9,420.9</text><rect x="891" y="404.3" width="33.8" height="11.2" rx="1.5" fill="#2962ff"/><text x="896.2" y="413.1" fill="#fff" font-size="9.0" font-family='"Liberation Sans", sans-serif' textLength="25.3" lengthAdjust="spacingAndGlyphs">9,310.2</text><rect x="891.2" y="259.2" width="37.5" height="20.9" rx="2" fill="#089981"/><text x="896.1" y="267.5" fill="#fff" font-size="8.4" font-family='"Liberation Sans", sans-serif' textLength="25.3" lengthAdjust="spacingAndGlyphs">9,562.8</text><text x="896.1" y="277.3" fill="#d8efe9" font-size="8.4" font-family='"Liberation Sans", sans-serif' textLength="29.4" lengthAdjust="spacingAndGlyphs">03:57:10</text><rect x="893.3" y="2.8" width="35.8" height="17.6" rx="3" fill="#fff" stroke="#e6e8ec" stroke-width="0.8"/><text x="898.7" y="14.9" fill="#131722" font-size="9.3" font-family='"Liberation Sans", sans-serif' textLength="13.4" lengthAdjust="spacingAndGlyphs">GBP</text><g fill="#131722" font-size="8.8" font-family='"Liberation Sans", sans-serif'><text x="11.29" y="543.1" textLength="8.03" lengthAdjust="spacingAndGlyphs">19</text><text x="47.49" y="543.1" textLength="8.03" lengthAdjust="spacingAndGlyphs">23</text><text x="83.69" y="543.1" textLength="8.03" lengthAdjust="spacingAndGlyphs">25</text><text x="116.39" y="543.1" textLength="8.03" lengthAdjust="spacingAndGlyphs">28</text><text x="153.29" y="543.1" textLength="12.03" lengthAdjust="spacingAndGlyphs" font-weight="bold">Oct</text><text x="192.99" y="543.1" textLength="4.01" lengthAdjust="spacingAndGlyphs">3</text><text x="228.49" y="543.1" textLength="4.01" lengthAdjust="spacingAndGlyphs">7</text><text x="264.69" y="543.1" textLength="4.01" lengthAdjust="spacingAndGlyphs">9</text><text x="295.99" y="543.1" textLength="8.03" lengthAdjust="spacingAndGlyphs">12</text><text x="334.69" y="543.1" textLength="8.03" lengthAdjust="spacingAndGlyphs">15</text><text x="369.99" y="543.1" textLength="8.03" lengthAdjust="spacingAndGlyphs">17</text><text x="405.99" y="543.1" textLength="8.03" lengthAdjust="spacingAndGlyphs">21</text><text x="442.29" y="543.1" textLength="8.03" lengthAdjust="spacingAndGlyphs">23</text><text x="474.99" y="543.1" textLength="8.03" lengthAdjust="spacingAndGlyphs">26</text><text x="513.89" y="543.1" textLength="8.03" lengthAdjust="spacingAndGlyphs">29</text><text x="561.98" y="543.1" textLength="13.63" lengthAdjust="spacingAndGlyphs" font-weight="bold">Nov</text><text x="605.99" y="543.1" textLength="4.01" lengthAdjust="spacingAndGlyphs">5</text><text x="641.79" y="543.1" textLength="4.01" lengthAdjust="spacingAndGlyphs">7</text><text x="676.06" y="543.1" textLength="7.49" lengthAdjust="spacingAndGlyphs">11</text><text x="711.69" y="543.1" textLength="8.03" lengthAdjust="spacingAndGlyphs">13</text><text x="744.39" y="543.1" textLength="8.03" lengthAdjust="spacingAndGlyphs">16</text><text x="783.49" y="543.1" textLength="8.03" lengthAdjust="spacingAndGlyphs">19</text><text x="818.99" y="543.1" textLength="8.03" lengthAdjust="spacingAndGlyphs">21</text><text x="855.39" y="543.1" textLength="8.03" lengthAdjust="spacingAndGlyphs">25</text></g><text x="5.3" y="15.0" fill="#131722" font-size="8.9" font-weight="bold" font-family='"Liberation Sans", sans-serif' textLength="122.3" lengthAdjust="spacingAndGlyphs">FTSE 100 Index · 4h · Trade Nation</text></svg>
</body></html>
